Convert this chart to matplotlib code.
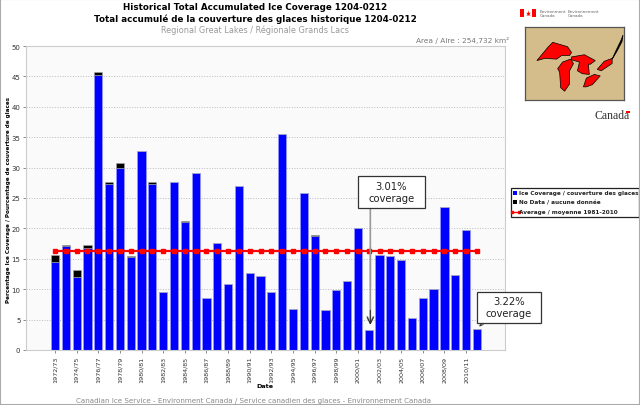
import matplotlib
matplotlib.use("Agg")
import matplotlib.pyplot as plt
from matplotlib.patches import Polygon, Rectangle
import numpy as np

seasons = ["1972/73", "1973/74", "1974/75", "1975/76", "1976/77", "1977/78", "1978/79", "1979/80",
           "1980/81", "1981/82", "1982/83", "1983/84", "1984/85", "1985/86", "1986/87", "1987/88",
           "1988/89", "1989/90", "1990/91", "1991/92", "1992/93", "1993/94", "1994/95", "1995/96",
           "1996/97", "1997/98", "1998/99", "1999/00", "2000/01", "2001/02", "2002/03", "2003/04",
           "2004/05", "2005/06", "2006/07", "2007/08", "2008/09", "2009/10", "2010/11", "2011/12"]
ice = [14.4, 17.1, 12.0, 16.8, 45.3, 27.3, 29.9, 15.3,
       32.8, 27.3, 9.5, 27.6, 21.1, 29.1, 8.5, 17.6,
       10.9, 26.9, 12.7, 12.2, 9.6, 35.5, 6.8, 25.9,
       18.8, 6.5, 9.8, 11.4, 20.0, 3.3, 15.6, 15.4,
       14.8, 5.2, 8.6, 10.1, 23.6, 12.4, 19.7, 3.5]
no_data = [1.3, 0.1, 1.2, 0.5, 0.5, 0.3, 0.8, 0.1,
           0, 0.3, 0, 0, 0.1, 0, 0, 0,
           0, 0, 0, 0, 0, 0, 0, 0,
           0.1, 0, 0, 0, 0, 0, 0, 0,
           0, 0, 0, 0, 0, 0, 0, 0]
average = [16.3] * len(seasons)
y_ticks = [0, 5, 10, 15, 20, 25, 30, 35, 40, 45, 50]

# rough outlines for the little locator map (axes are 0-100 both ways)
superior = [(12, 54), (23, 72), (28, 79), (33, 77), (43, 73), (47, 65), (45, 61), (37, 61),
            (32, 56), (20, 57)]
michigan = [(46, 56), (38, 52), (33, 43), (35, 38), (36, 17), (40, 12), (45, 22), (45, 40), (49, 50)]
huron = [(47, 59), (60, 62), (71, 54), (66, 49), (64, 49), (65, 35), (58, 36), (53, 40),
         (55, 52), (47, 55)]
erie = [(59, 18), (62, 30), (70, 35), (76, 33), (68, 21), (62, 18)]
ontario = [(73, 42), (80, 53), (88, 57), (88, 50), (77, 40)]
st_lawrence = [(88, 56), (92, 68), (97, 82), (99, 89), (98, 80), (93, 67), (89, 58)]
leaf = [(526, 16.5), (527.5, 15.8), (526.5, 13.5), (528, 14), (528, 11), (529, 14),
        (530.5, 13.5), (529.5, 15.8), (531, 16.5)]

fig = plt.figure(figsize=(6.4, 4.06), dpi=100)
W, H = 640.0, 406.0
ax = fig.add_axes([26 / W, 1 - 351 / H, (505 - 26) / W, (351 - 47) / H])
ax.set_facecolor("#fafafa")
ax.set_axisbelow(True)

x = np.arange(len(seasons))
ice = np.array(ice)
no_data = np.array(no_data)
ax.bar(x, ice, width=0.76, color="#0000ff", edgecolor="#9a9aff", linewidth=0.5)
ax.bar(x, no_data, bottom=ice, width=0.76, color="black", edgecolor="#aaaaaa", linewidth=0.4)
ax.plot(x, average, color="#ff0000", linewidth=1.6, marker="s", markersize=3.2)

ax.set_xlim(-2.68, 41.6)
ax.set_ylim(0, 50)
ax.set_yticks(y_ticks)
ax.set_xticks(x[::2])
ax.set_xticklabels(seasons[::2], rotation=90)
ax.tick_params(axis="y", labelsize=5, length=2, width=0.4, pad=2, colors="#333333")
ax.tick_params(axis="x", labelsize=4.6, length=2, width=0.4, pad=2, colors="#333333")
ax.grid(axis="y", color="#bbbbbb", linestyle=":", linewidth=0.7)
for s in ax.spines.values():
    s.set_color("#cccccc")
    s.set_linewidth(0.8)
fig.text(265 / W, 1 - 387 / H, "Date", fontsize=4.6, fontweight="bold", ha="center", va="center")
fig.text(9 / W, 1 - 200 / H, "Percentage Ice Coverage / Pourcentage de couverture de glaces", fontsize=4.05,
         fontweight="bold", rotation=90, ha="center", va="center")

# titles
fig.text(255 / W, 1 - 7 / H, "Historical Total Accumulated Ice Coverage 1204-0212", fontsize=6.35,
         fontweight="bold", ha="center", va="center")
fig.text(255 / W, 1 - 19 / H, "Total accumulé de la couverture des glaces historique 1204-0212", fontsize=6.35,
         fontweight="bold", ha="center", va="center")
fig.text(255 / W, 1 - 30 / H, "Regional Great Lakes / Régionale Grands Lacs", fontsize=5.9,
         color="#999999", ha="center", va="center")
fig.text(509 / W, 1 - 41 / H, "Area / Aire : 254,732 km²", fontsize=5.3, color="#777777",
         ha="right", va="center")
fig.text(254 / W, 1 - 401 / H, "Canadian Ice Service - Environment Canada / Service canadien des glaces - Environnement Canada",
         fontsize=5.1, color="#888888", ha="center", va="center")

# callouts: grey shaft with a black stretch over it, then the boxes on top
ax.annotate("", xy=(29.15, 3.7), xytext=(29.15, 23.9),
            arrowprops=dict(arrowstyle="->", color="#999999", linewidth=1.2, mutation_scale=11))
ax.annotate("", xy=(29.15, 3.7), xytext=(29.15, 7),
            arrowprops=dict(arrowstyle="->", color="#222222", linewidth=0.7, mutation_scale=11))
ax.plot([29.1, 29.1], [10.5, 16.9], color="black", linewidth=0.8)
ax.annotate("", xy=(39.05, 3.5), xytext=(39.6, 4.6),
            arrowprops=dict(arrowstyle="->", color="#333333", linewidth=0.6, mutation_scale=6))

for left, top, width, height, label in [(358, 177, 67, 32, "3.01%\ncoverage"),
                                        (477, 293, 64, 31, "3.22%\ncoverage")]:
    fig.patches.append(Rectangle((left / W, 1 - (top + height) / H), width / W, height / H,
                                 transform=fig.transFigure, facecolor="white", edgecolor="#333333",
                                 linewidth=0.9, zorder=5))
    fig.text((left + width / 2) / W, 1 - (top + height / 2) / H, label, fontsize=7.2, ha="center",
             va="center", linespacing=1.25, color="#222222", zorder=6)

# legend box, hand placed to sit at the right of the plot
fig.patches.append(Rectangle((511 / W, 1 - 218 / H), 128 / W, 29 / H, transform=fig.transFigure,
                             facecolor="white", edgecolor="#222222", linewidth=0.9))
legend_labels = ["Ice Coverage / couverture des glaces", "No Data / aucune donnée",
                 "Average / moyenne 1981-2010"]
legend_rows = [194, 203, 213]
for label, row, col in zip(legend_labels, legend_rows, ["#0000ff", "black", "#ff0000"]):
    fig.text(519 / W, 1 - row / H, label, fontsize=4.15, fontweight="bold", color="#222222", va="center")
    if col == "#ff0000":
        fig.add_artist(plt.Line2D([512 / W, 519 / W], [1 - row / H] * 2, color=col, linewidth=1.0,
                                  marker="s", markersize=1.8))
    else:
        fig.patches.append(Rectangle((513 / W, 1 - (row + 2) / H), 4 / W, 4 / H, transform=fig.transFigure,
                                     facecolor=col, edgecolor="none"))

# locator map
map_ax = fig.add_axes([525 / W, 1 - 101 / H, 99 / W, 73 / H])
map_ax.set_facecolor("#d4bd8a")
map_ax.set_xlim(0, 100)
map_ax.set_ylim(0, 100)
map_ax.set_xticks([])
map_ax.set_yticks([])
for s in map_ax.spines.values():
    s.set_color("#555555")
    s.set_linewidth(0.9)
for lake in [superior, michigan, huron, erie, ontario]:
    map_ax.add_patch(Polygon(lake, closed=True, facecolor="#ff0000", edgecolor="black", linewidth=0.5))
map_ax.add_patch(Polygon(st_lawrence, closed=True, facecolor="black", edgecolor="black", linewidth=0.5))

# government signature
fig.patches.append(Rectangle((520 / W, 1 - 18 / H), 16 / W, 8 / H, transform=fig.transFigure,
                             facecolor="#ff0000", edgecolor="none"))
fig.patches.append(Rectangle((524 / W, 1 - 18 / H), 8 / W, 8 / H, transform=fig.transFigure,
                             facecolor="white", edgecolor="none"))
fig.patches.append(Polygon([(px / W, 1 - py / H) for px, py in leaf], closed=True, transform=fig.transFigure,
                           facecolor="#ff0000", edgecolor="none"))
fig.text(540 / W, 1 - 14 / H, "Environment\nCanada", fontsize=3, color="#666666", va="center")
fig.text(568 / W, 1 - 14 / H, "Environnement\nCanada", fontsize=3, color="#666666", va="center")
fig.text(630 / W, 1 - 116 / H, "Canada", fontsize=8.5, family="Liberation Serif", color="#333333",
         ha="right", va="center")
fig.patches.append(Rectangle((626 / W, 1 - 114 / H), 4 / W, 2.5 / H, transform=fig.transFigure,
                             facecolor="#ff0000", edgecolor="none"))

# thin frame round the whole picture
fig.patches.append(Rectangle((0, 0), 1, 1, transform=fig.transFigure, facecolor="none",
                             edgecolor="#aaaaaa", linewidth=1.5))

fig.savefig("out.png", dpi=100)
